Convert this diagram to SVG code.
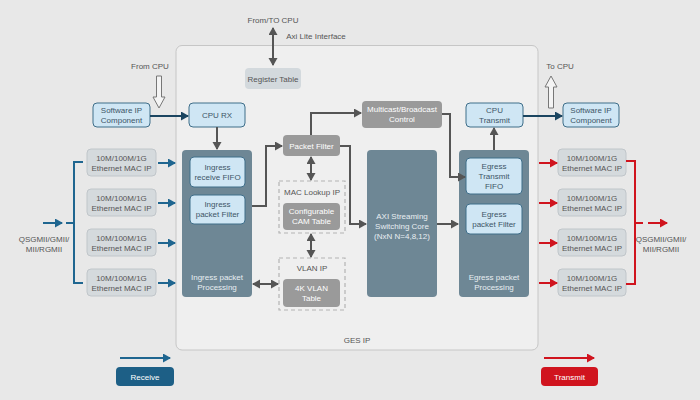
<svg xmlns="http://www.w3.org/2000/svg" width="700" height="400" viewBox="0 0 700 400">
<style>
text{font-family:"Liberation Sans",Arial,sans-serif;font-size:8px;text-anchor:middle}
.lbl{fill:#555}
.mac rect{fill:#d5dadd;stroke:#c0c6ca;stroke-width:1}
.mac text{fill:#555}
.lb rect{fill:#cfe6f4;stroke:#3f6e89;stroke-width:1}
.lb text{fill:#3d5566}
.gr rect{fill:#9a9a9a;stroke:none}
.gr text{fill:#fff}
.dk{fill:#6e8795}
.dk-t{fill:#e8eef2}
.dash{fill:none;stroke:#b3b3b3;stroke-width:1.2;stroke-dasharray:4 3}
.ga{fill:none;stroke:#555;stroke-width:2}
.ba{fill:none;stroke:#1f6690;stroke-width:2}
.ra{fill:none;stroke:#d0141e;stroke-width:2}
.na{fill:none;stroke:#1b4560;stroke-width:2}
</style>
<defs>
<marker id="mg" markerUnits="userSpaceOnUse" markerWidth="10" markerHeight="10" refX="7" refY="4.5" orient="auto-start-reverse"><path d="M0,0 L8,4.5 L0,9 z" fill="#555"/></marker>
<marker id="mb" markerUnits="userSpaceOnUse" markerWidth="10" markerHeight="10" refX="7" refY="4.5" orient="auto"><path d="M0,0 L8,4.5 L0,9 z" fill="#1f6690"/></marker>
<marker id="mr" markerUnits="userSpaceOnUse" markerWidth="10" markerHeight="10" refX="7" refY="4.5" orient="auto"><path d="M0,0 L8,4.5 L0,9 z" fill="#d0141e"/></marker>
<marker id="mn" markerUnits="userSpaceOnUse" markerWidth="10" markerHeight="10" refX="7" refY="4.5" orient="auto"><path d="M0,0 L8,4.5 L0,9 z" fill="#1b4560"/></marker>
</defs>
<rect width="700" height="400" fill="#e8e8e8"/>

<g id="ges-ip">
<rect x="176" y="45.5" width="362" height="304.5" rx="6" fill="#efefef" stroke="#c6c6c6" stroke-width="1"/>
<text x="357" y="343" class="lbl">GES IP</text>
</g>

<g id="labels">
<text x="273" y="23" class="lbl">From/TO CPU</text>
<text x="316" y="39" class="lbl">Axi Lite Interface</text>
<text x="150" y="69" class="lbl">From CPU</text>
<text x="560" y="69" class="lbl">To CPU</text>
<text x="44" y="242" class="lbl">QSGMII/GMII/</text>
<text x="44" y="252" class="lbl">MII/RGMII</text>
<text x="661" y="242" class="lbl">QSGMII/GMII/</text>
<text x="661" y="252" class="lbl">MII/RGMII</text>
</g>

<g id="register-table">
<rect x="245" y="68" width="56" height="21" rx="4" fill="#d3d9dd"/>
<text x="273" y="81.5" fill="#555">Register Table</text>
</g>

<g id="sw-ip-left" class="lb">
<rect x="93" y="103" width="57" height="24" rx="4"/>
<text x="121.5" y="113">Software IP</text>
<text x="121.5" y="123">Component</text>
</g>
<g id="cpu-rx" class="lb">
<rect x="189" y="103" width="56" height="24" rx="4"/>
<text x="217" y="118">CPU RX</text>
</g>
<g id="cpu-tx" class="lb">
<rect x="466" y="103" width="57" height="24" rx="4"/>
<text x="494.5" y="113">CPU</text>
<text x="494.5" y="123">Transmit</text>
</g>
<g id="sw-ip-right" class="lb">
<rect x="563" y="103" width="56" height="24" rx="4"/>
<text x="591" y="113">Software IP</text>
<text x="591" y="123">Component</text>
</g>

<g id="ingress">
<rect x="182" y="150" width="70" height="147" rx="4" class="dk"/>
<text x="217" y="280" class="dk-t">Ingress packet</text>
<text x="217" y="290" class="dk-t">Processing</text>
</g>
<g id="ingress-fifo" class="lb">
<rect x="190" y="157" width="55" height="30" rx="4" fill="#d8ecf7"/>
<text x="217.5" y="170">Ingress</text>
<text x="217.5" y="180">receive FIFO</text>
</g>
<g id="ingress-filter" class="lb">
<rect x="190" y="195" width="55" height="29" rx="4"/>
<text x="217.5" y="207">Ingress</text>
<text x="217.5" y="217">packet Filter</text>
</g>

<g id="axi-core">
<rect x="367" y="150" width="70" height="147" rx="4" class="dk"/>
<text x="402" y="219" class="dk-t">AXI Streaming</text>
<text x="402" y="229" class="dk-t">Switching Core</text>
<text x="402" y="239" class="dk-t">(NxN N=4,8,12)</text>
</g>

<g id="egress">
<rect x="459" y="150" width="70" height="147" rx="4" class="dk"/>
<text x="494" y="280" class="dk-t">Egress packet</text>
<text x="494" y="290" class="dk-t">Processing</text>
</g>
<g id="egress-fifo" class="lb">
<rect x="466" y="158" width="56" height="36" rx="4"/>
<text x="494" y="169">Egress</text>
<text x="494" y="179">Transmit</text>
<text x="494" y="189">FIFO</text>
</g>
<g id="egress-filter" class="lb">
<rect x="466" y="204" width="56" height="30" rx="4"/>
<text x="494" y="217">Egress</text>
<text x="494" y="227">packet Filter</text>
</g>

<g id="packet-filter" class="gr">
<rect x="283" y="135" width="57" height="21" rx="4"/>
<text x="311.5" y="148.5">Packet Filter</text>
</g>
<g id="multicast" class="gr">
<rect x="362" y="101" width="80" height="27" rx="4"/>
<text x="402" y="112">Multicast/Broadcast</text>
<text x="402" y="122">Control</text>
</g>

<g id="mac-lookup">
<rect x="279" y="181" width="66" height="52" class="dash"/>
<text x="312" y="195" class="lbl">MAC Lookup IP</text>
</g>
<g id="cam-table" class="gr">
<rect x="283" y="203" width="57" height="27" rx="4"/>
<text x="311.5" y="214">Configurable</text>
<text x="311.5" y="224">CAM Table</text>
</g>
<g id="vlan-ip">
<rect x="279" y="258" width="66" height="52" class="dash"/>
<text x="312" y="271" class="lbl">VLAN IP</text>
</g>
<g id="vlan-table" class="gr">
<rect x="283" y="279" width="57" height="28" rx="4"/>
<text x="311.5" y="291">4K VLAN</text>
<text x="311.5" y="301">Table</text>
</g>

<g id="mac-left-1" class="mac"><rect x="87" y="149" width="69" height="27" rx="4"/><text x="121.5" y="160.5">10M/100M/1G</text><text x="121.5" y="170.5">Ethernet MAC IP</text></g>
<g id="mac-left-2" class="mac"><rect x="87" y="189" width="69" height="27" rx="4"/><text x="121.5" y="200.5">10M/100M/1G</text><text x="121.5" y="210.5">Ethernet MAC IP</text></g>
<g id="mac-left-3" class="mac"><rect x="87" y="229" width="69" height="27" rx="4"/><text x="121.5" y="240.5">10M/100M/1G</text><text x="121.5" y="250.5">Ethernet MAC IP</text></g>
<g id="mac-left-4" class="mac"><rect x="87" y="269" width="69" height="27" rx="4"/><text x="121.5" y="280.5">10M/100M/1G</text><text x="121.5" y="290.5">Ethernet MAC IP</text></g>

<g id="mac-right-1" class="mac"><rect x="558" y="149" width="68" height="27" rx="4"/><text x="592" y="160.5">10M/100M/1G</text><text x="592" y="170.5">Ethernet MAC IP</text></g>
<g id="mac-right-2" class="mac"><rect x="558" y="189" width="68" height="27" rx="4"/><text x="592" y="200.5">10M/100M/1G</text><text x="592" y="210.5">Ethernet MAC IP</text></g>
<g id="mac-right-3" class="mac"><rect x="558" y="229" width="68" height="27" rx="4"/><text x="592" y="240.5">10M/100M/1G</text><text x="592" y="250.5">Ethernet MAC IP</text></g>
<g id="mac-right-4" class="mac"><rect x="558" y="269" width="68" height="27" rx="4"/><text x="592" y="280.5">10M/100M/1G</text><text x="592" y="290.5">Ethernet MAC IP</text></g>

<g id="legend-receive">
<line x1="120" y1="358" x2="170" y2="358" class="ba" marker-end="url(#mb)"/>
<rect x="116" y="367" width="58" height="19" rx="4" fill="#1d5f86"/>
<text x="145" y="379.5" fill="#fff">Receive</text>
</g>
<g id="legend-transmit">
<line x1="544" y1="358" x2="594" y2="358" class="ra" marker-end="url(#mr)"/>
<rect x="541" y="367" width="57" height="19" rx="4" fill="#d0141e"/>
<text x="569.5" y="379.5" fill="#fff">Transmit</text>
</g>

<g id="connectors">
<line x1="273" y1="28" x2="273" y2="65" class="ga" marker-start="url(#mg)" marker-end="url(#mg)"/>
<polygon points="156.5,76 161.5,76 161.5,97 165,97 159,108 153,97 156.5,97" fill="#f4f4f4" stroke="#777" stroke-width="1"/>
<polygon points="548.5,108 553.5,108 553.5,87 557,87 551,76 545,87 548.5,87" fill="#f4f4f4" stroke="#777" stroke-width="1"/>
<line x1="150" y1="116" x2="188" y2="116" class="na" marker-end="url(#mn)"/>
<line x1="523" y1="116" x2="562" y2="116" class="na" marker-end="url(#mn)"/>
<line x1="217" y1="127" x2="217" y2="149" class="ga" marker-end="url(#mg)"/>
<line x1="494" y1="150" x2="494" y2="128" class="ga" marker-end="url(#mg)"/>
<polyline points="252,206 266,206 266,146 282,146" class="ga" marker-end="url(#mg)"/>
<polyline points="311,135 311,113 361,113" class="ga" marker-end="url(#mg)"/>
<polyline points="340,146 350,146 350,224 366,224" class="ga" marker-end="url(#mg)"/>
<polyline points="442,114 450,114 450,177 465,177" class="ga" marker-end="url(#mg)"/>
<line x1="437" y1="224" x2="458" y2="224" class="ga" marker-end="url(#mg)"/>
<line x1="311" y1="157" x2="311" y2="180" class="ga" marker-start="url(#mg)" marker-end="url(#mg)"/>
<line x1="311" y1="234" x2="311" y2="257" class="ga" marker-start="url(#mg)" marker-end="url(#mg)"/>
<line x1="253" y1="284" x2="278" y2="284" class="ga" marker-start="url(#mg)" marker-end="url(#mg)"/>

<line x1="43" y1="223" x2="62" y2="223" class="ba" marker-end="url(#mb)"/>
<line x1="66" y1="223" x2="74" y2="223" class="ba"/>
<polyline points="83,162 74,162 74,283 83,283" class="ba"/>
<line x1="158" y1="163" x2="175" y2="163" class="ba" marker-end="url(#mb)"/>
<line x1="158" y1="203" x2="175" y2="203" class="ba" marker-end="url(#mb)"/>
<line x1="158" y1="243" x2="175" y2="243" class="ba" marker-end="url(#mb)"/>
<line x1="158" y1="283" x2="175" y2="283" class="ba" marker-end="url(#mb)"/>

<line x1="539" y1="163" x2="557" y2="163" class="ra" marker-end="url(#mr)"/>
<line x1="539" y1="203" x2="557" y2="203" class="ra" marker-end="url(#mr)"/>
<line x1="539" y1="243" x2="557" y2="243" class="ra" marker-end="url(#mr)"/>
<line x1="539" y1="283" x2="557" y2="283" class="ra" marker-end="url(#mr)"/>
<polyline points="626,161 635,161 635,284 626,284" class="ra"/>
<line x1="635" y1="223" x2="643" y2="223" class="ra"/>
<line x1="648" y1="223" x2="667" y2="223" class="ra" marker-end="url(#mr)"/>
</g>
</svg>
